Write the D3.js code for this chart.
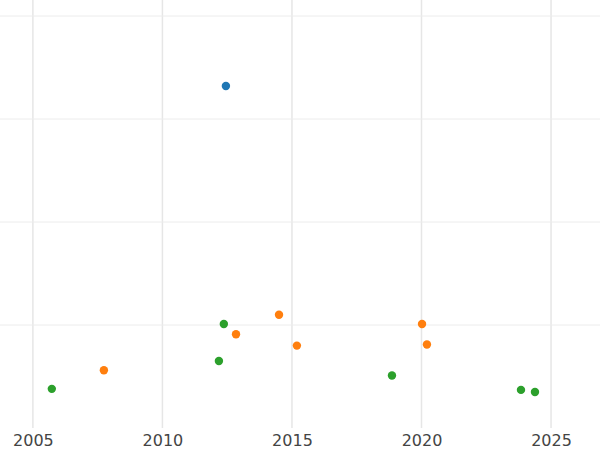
<!DOCTYPE html>
<html><head><meta charset="utf-8">
<script src="https://cdn.jsdelivr.net/npm/d3@7"></script>
<style>body{margin:0;background:#fff}</style></head>
<body><svg id="c" width="600" height="450"></svg>
<script>
const blueX=[2012.45], blueY=[3.32];
const orangeX=[2007.74,2012.84,2014.5,2015.19,2020.02,2020.21];
const orangeY=[0.56,0.91,1.10,0.80,1.01,0.81];
const greenX=[2005.73,2012.37,2012.18,2018.86,2023.84,2024.38];
const greenY=[0.38,1.01,0.65,0.51,0.37,0.35];
const xTicks=[2005,2010,2015,2020,2025];
const yTicks=[1,2,3,4];
const svg=d3.select("#c");
const x=d3.scaleLinear().domain([2003.73,2026.89]).range([0,600]);
const y=d3.scaleLinear().domain([0,4]).range([428,16]);
svg.append("g").selectAll("line").data(xTicks).join("line")
 .attr("x1",d=>x(d)).attr("x2",d=>x(d)).attr("y1",0).attr("y2",428)
 .attr("stroke","#e6e6e6").attr("stroke-width",1.5);
svg.append("g").selectAll("line").data(yTicks).join("line")
 .attr("x1",0).attr("x2",600).attr("y1",d=>y(d)).attr("y2",d=>y(d))
 .attr("stroke","#ececec").attr("stroke-width",1);
const ax=svg.append("g").attr("transform","translate(0,428)")
 .call(d3.axisBottom(x).tickValues(xTicks).tickFormat(d3.format("d")).tickSize(0).tickPadding(7));
ax.select(".domain").remove();
ax.selectAll("text").attr("font-family","DejaVu Sans").attr("font-size",16).attr("fill","#444");
function pts(xs,ys,c){svg.append("g").selectAll("circle").data(xs).join("circle")
 .attr("cx",d=>x(d)).attr("cy",(d,i)=>y(ys[i])).attr("r",4.2).attr("fill",c);}
pts(blueX,blueY,"#1f77b4");pts(orangeX,orangeY,"#ff7f0e");pts(greenX,greenY,"#2ca02c");
</script></body></html>
